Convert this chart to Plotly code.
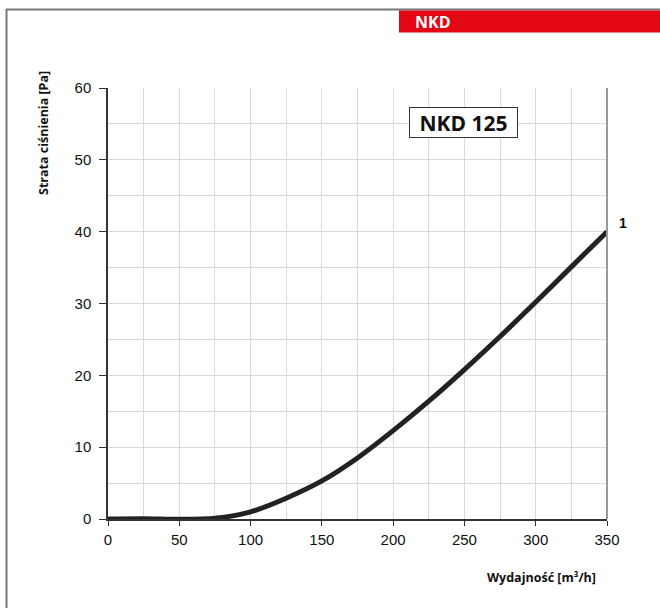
import plotly.graph_objects as go

flow = [0, 25, 50, 75, 100, 125, 150, 175, 200, 225, 250, 275, 300, 325, 350]
pressure = [0.0, 0.05, -0.05, 0.1, 1.0, 2.9, 5.3, 8.5, 12.3, 16.4, 20.8, 25.4, 30.2, 35.1, 40.0]
curve_label = "1"
chart_title = "NKD 125"
header = "NKD"

L, R, T, B = 108, 53, 88, 89
W, H = 660, 608
pw, ph = W - L - R, H - T - B

def px(x):
    return (x - L) / pw

def py(y):
    return (H - B - y) / ph

fig = go.Figure()
fig.add_trace(go.Scatter(x=flow, y=pressure, mode="lines",
                         line=dict(color="#222222", width=5, shape="spline", smoothing=0.8),
                         showlegend=False, hoverinfo="skip", cliponaxis=False))

axis_font = dict(family="Liberation Sans, Arial", size=15, color="#111")
title_font = dict(family="Open Sans", size=12.5, color="#111")

common = dict(showgrid=True, gridcolor="#d9d9d9", gridwidth=1,
              ticks="outside", tickcolor="#333", showline=True, linecolor="#333", linewidth=1.5,
              zeroline=False, tickfont=axis_font, fixedrange=True)
fig.update_xaxes(range=[0, 350], dtick=50, tick0=0, ticklen=5,
                 minor=dict(dtick=25, showgrid=True, gridcolor="#d9d9d9", gridwidth=1),
                 ticklabelstandoff=1, **common)
fig.update_yaxes(range=[0, 60], dtick=10, tick0=0, ticklen=7,
                 minor=dict(dtick=5, showgrid=True, gridcolor="#d9d9d9", gridwidth=1),
                 ticklabelstandoff=5, **common)

shapes = [
    dict(type="line", xref="paper", yref="paper", x0=1, x1=1, y0=0, y1=1, line=dict(color="#999", width=2)),
    dict(type="line", xref="paper", yref="paper", x0=px(6), x1=px(660), y0=py(9.5), y1=py(9.5),
         line=dict(color="#777", width=2)),
    dict(type="line", xref="paper", yref="paper", x0=px(6.5), x1=px(6.5), y0=py(9), y1=py(608),
         line=dict(color="#777", width=2)),
    dict(type="rect", xref="paper", yref="paper", x0=px(399), x1=px(661), y0=py(32.5), y1=py(10.5),
         fillcolor="#E30613", line=dict(width=0)),
]

annotations = [
    dict(text="<b>" + header + "</b>", xref="paper", yref="paper", x=px(413), y=py(21.5),
         xanchor="left", yanchor="middle", showarrow=False,
         font=dict(family="Open Sans", size=16, color="white")),
    dict(text="<b>" + chart_title + "</b>", x=249.5, y=55.2, xref="x", yref="y", showarrow=False,
         xanchor="center", yanchor="middle", width=105, height=27, align="center",
         font=dict(family="Open Sans", size=21, color="#111"), bgcolor="white",
         bordercolor="#333", borderwidth=1, borderpad=1),
    dict(text="<b>" + curve_label + "</b>", xref="paper", yref="paper", x=px(623), y=py(223),
         xanchor="center", yanchor="middle",
         showarrow=False, font=dict(family="Liberation Sans, Arial", size=14, color="#111")),
    dict(text="<b>Strata ciśnienia [Pa]</b>", xref="paper", yref="paper", x=px(43), y=py(133),
         xanchor="center", yanchor="middle",
         textangle=-90, showarrow=False, font=title_font),
    dict(text="<b>Wydajność [m³/h]</b>", xref="paper", yref="paper", x=px(541), y=py(577),
         xanchor="center", yanchor="middle",
         showarrow=False, font=title_font),
]

fig.update_layout(width=W, height=H, margin=dict(l=L, r=R, t=T, b=B),
                  paper_bgcolor="white", plot_bgcolor="white",
                  shapes=shapes, annotations=annotations, showlegend=False)

fig.write_html("out.html", config={"displayModeBar": False},
               post_script="document.body.style.margin='0';document.body.style.overflow='hidden';")
